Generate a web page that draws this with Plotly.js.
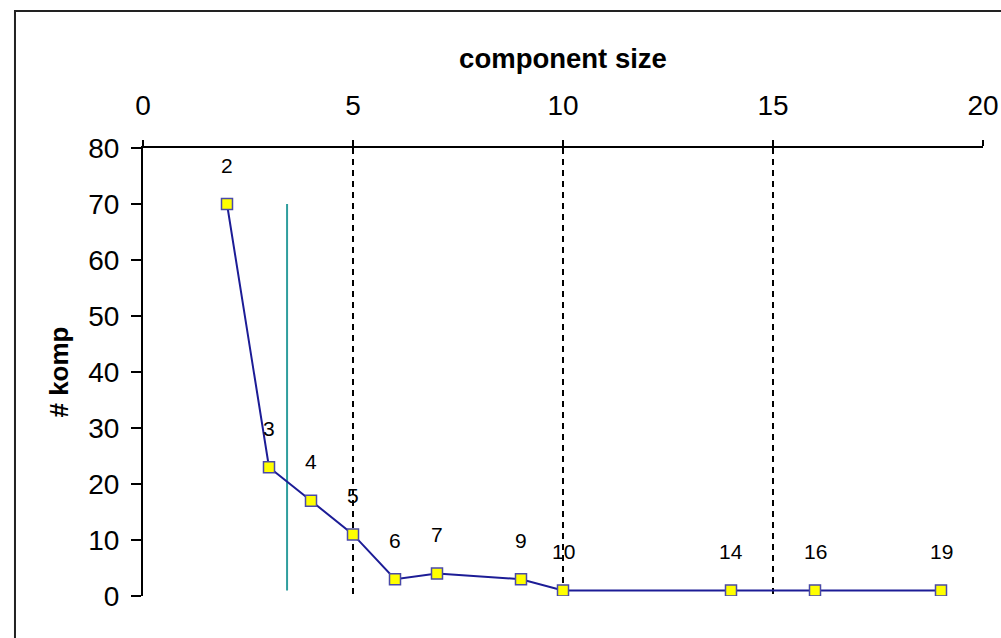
<!DOCTYPE html>
<html>
<head>
<meta charset="utf-8">
<script src="https://cdn.plot.ly/plotly-3.0.1.min.js"></script>
<style>
html,body{margin:0;padding:0;background:#fff;}
#chart{width:1001px;height:638px;}
</style>
</head>
<body>
<div id="chart"></div>
<script>
// data
var componentSize = [2, 3, 4, 5, 6, 7, 9, 10, 14, 16, 19];
var numKomp = [70, 23, 17, 11, 3, 4, 3, 1, 1, 1, 1];
var pointLabels = ["2", "3", "4", "5", "6", "7", "9", "10", "14", "16", "19"];
var xTicks = [0, 5, 10, 15, 20];
var yTicks = [0, 10, 20, 30, 40, 50, 60, 70, 80];
var markerLineX = [3.43, 3.43];
var markerLineY = [1, 70];

var tickFamily = "Liberation Sans, Arial, sans-serif";
var boldFamily = "Liberation Sans, Arial, sans-serif";

var traces = [
  {
    x: markerLineX, y: markerLineY, mode: "lines", type: "scatter",
    line: {color: "#2f9e9e", width: 2}, hoverinfo: "skip", showlegend: false
  },
  {
    x: componentSize, y: numKomp, mode: "lines+markers", type: "scatter",
    line: {color: "#1c1c96", width: 2},
    marker: {symbol: "square", size: 11, color: "#ffff00", line: {color: "#4a4aa8", width: 1.5}},
    showlegend: false
  },
  {
    x: [0, 20], y: [0, 0], xaxis: "x2", mode: "markers", type: "scatter",
    marker: {opacity: 0}, hoverinfo: "skip", showlegend: false
  }
];

var annotations = componentSize.map(function (xv, i) {
  return {
    x: xv, y: numKomp[i], xref: "x", yref: "y", text: pointLabels[i],
    showarrow: false, yshift: 39,
    font: {family: tickFamily, size: 21, color: "#000"}
  };
});

var layout = {
  width: 1001, height: 638,
  margin: {l: 143, r: 18, t: 148, b: 42},
  paper_bgcolor: "#fff", plot_bgcolor: "#fff",
  showlegend: false,
  xaxis: {
    range: [0, 20], side: "top", anchor: "y",
    tickvals: xTicks, ticktext: xTicks.map(String),
    ticks: "outside", ticklen: 6, tickwidth: 2, tickcolor: "#000",
    ticklabelstandoff: 14,
    tickfont: {family: tickFamily, size: 28, color: "#000"},
    showline: true, linecolor: "#000", linewidth: 2,
    showgrid: true, gridcolor: "#000", gridwidth: 2, griddash: "6px,5px",
    zeroline: false, fixedrange: true,
    title: {text: "component size", standoff: 13,
      font: {family: boldFamily, size: 27.5, color: "#000", weight: "bold"}}
  },
  xaxis2: {
    range: [0, 20], overlaying: "x", side: "top", anchor: "y",
    tickvals: xTicks, ticks: "inside", ticklen: 5, tickwidth: 2, tickcolor: "#000",
    showticklabels: false, showgrid: false, showline: false, zeroline: false
  },
  yaxis: {
    range: [0, 80], tickvals: yTicks, ticktext: yTicks.map(String),
    ticks: "outside", ticklen: 10, tickwidth: 2, tickcolor: "#000",
    ticklabelstandoff: 6,
    tickfont: {family: tickFamily, size: 28, color: "#000"},
    showline: true, linecolor: "#000", linewidth: 2,
    showgrid: false, zeroline: false, fixedrange: true,
    title: {text: "# komp", standoff: 12,
      font: {family: boldFamily, size: 26, color: "#000", weight: "bold"}}
  },
  annotations: annotations,
  shapes: [{
    type: "rect", xref: "paper", yref: "paper",
    x0: -0.1524, x1: 1.2, y0: -0.3, y1: 1.3058,
    line: {color: "#222", width: 2}, fillcolor: "rgba(0,0,0,0)", layer: "below"
  }]
};

Plotly.newPlot("chart", traces, layout, {displayModeBar: false, staticPlot: true});
</script>
</body>
</html>
